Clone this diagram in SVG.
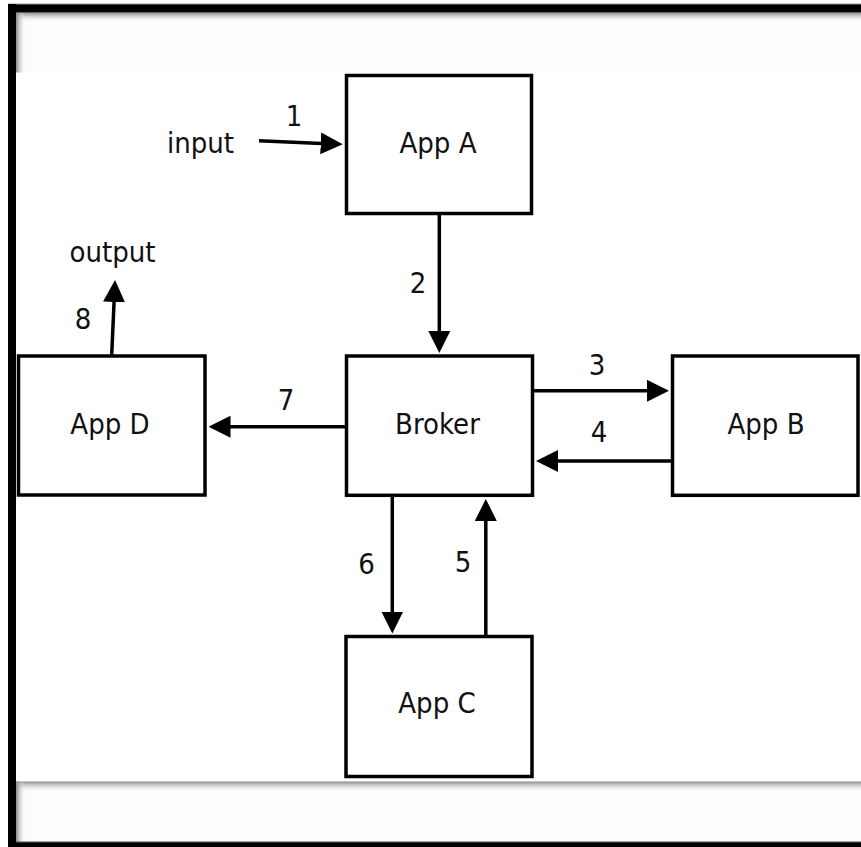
<svg xmlns="http://www.w3.org/2000/svg" width="861" height="847" viewBox="0 0 861 847">
  <defs>
    <linearGradient id="shTop" x1="0" y1="0" x2="0" y2="1">
      <stop offset="0" stop-color="#8a8a8a"/>
      <stop offset="1" stop-color="#ffffff" stop-opacity="0"/>
    </linearGradient>
    <linearGradient id="shLeft" x1="0" y1="0" x2="1" y2="0">
      <stop offset="0" stop-color="#8a8a8a"/>
      <stop offset="1" stop-color="#ffffff" stop-opacity="0"/>
    </linearGradient>
    <marker id="ah" markerUnits="userSpaceOnUse" viewBox="0 0 22 22" markerWidth="22" markerHeight="22" refX="12" refY="11" orient="auto">
      <path d="M0,0 L22,11 L0,22 Z" fill="#000"/>
    </marker>
  </defs>
  <style>
    .box { fill: #fff; stroke: #000; stroke-width: 3.5; }
    .lbl { font-family: "DejaVu Sans Condensed", "DejaVu Sans", sans-serif; font-stretch: condensed; font-size: 29px; fill: #111; text-anchor: middle; }
    .edge { stroke: #000; stroke-width: 3.5; fill: none; marker-end: url(#ah); }
  </style>

  <!-- background / frame -->
  <rect x="0" y="0" width="861" height="847" fill="#fff"/>
  <rect x="16" y="12.5" width="845" height="60" fill="#fdfdfd"/>
  <rect x="16" y="12.5" width="845" height="10" fill="url(#shTop)"/>
  <rect x="16" y="12.5" width="10" height="60" fill="url(#shLeft)"/>
  <rect x="16" y="781.5" width="845" height="61" fill="#fdfdfd"/>
  <rect x="16" y="781.5" width="845" height="11" fill="url(#shTop)"/>
  <rect x="16" y="781.5" width="10" height="61" fill="url(#shLeft)"/>
  <rect x="8" y="4" width="853" height="8.5" fill="#000"/>
  <rect x="8" y="3.5" width="853" height="1" fill="#999"/>
  <rect x="8" y="4" width="8" height="843" fill="#000"/>
  <rect x="8" y="842" width="853" height="5" fill="#000"/>
  <rect x="16" y="841.5" width="845" height="1" fill="#555"/>

  <!-- connectors -->
  <g id="connectors">
    <line class="edge" x1="259" y1="140.7" x2="332.7" y2="143.9"/>
    <line class="edge" x1="439.3" y1="215" x2="439.3" y2="343"/>
    <line class="edge" x1="533" y1="390.8" x2="659" y2="390.8"/>
    <line class="edge" x1="671" y1="461" x2="546" y2="461"/>
    <line class="edge" x1="485.8" y1="636" x2="485.8" y2="509"/>
    <line class="edge" x1="392.3" y1="497" x2="392.3" y2="623.5"/>
    <line class="edge" x1="345" y1="426.7" x2="218.5" y2="426.7"/>
    <line class="edge" x1="111.7" y1="355" x2="114.6" y2="290"/>
    <text class="lbl" x="294" y="126">1</text>
    <text class="lbl" x="418" y="293">2</text>
    <text class="lbl" x="597" y="375">3</text>
    <text class="lbl" x="599" y="442">4</text>
    <text class="lbl" x="463" y="572">5</text>
    <text class="lbl" x="366.5" y="574">6</text>
    <text class="lbl" x="286" y="410">7</text>
    <text class="lbl" x="83" y="328.5">8</text>
  </g>

  <!-- nodes -->
  <g id="input"><text class="lbl" x="200.5" y="153">input</text></g>
  <g id="output"><text class="lbl" x="112.5" y="262">output</text></g>
  <g id="appA">
    <rect class="box" x="346.5" y="75.5" width="185" height="138"/>
    <text class="lbl" x="438" y="153">App A</text>
  </g>
  <g id="broker">
    <rect class="box" x="346.5" y="356" width="186" height="139.3"/>
    <text class="lbl" x="437.5" y="434.3">Broker</text>
  </g>
  <g id="appB">
    <rect class="box" x="672.5" y="356" width="185.5" height="139.3"/>
    <text class="lbl" x="766" y="434.3">App B</text>
  </g>
  <g id="appD">
    <rect class="box" x="18.5" y="356" width="186.5" height="139"/>
    <text class="lbl" x="110" y="433.5">App D</text>
  </g>
  <g id="appC">
    <rect class="box" x="346" y="636.5" width="186" height="140"/>
    <text class="lbl" x="437" y="713">App C</text>
  </g>
</svg>
